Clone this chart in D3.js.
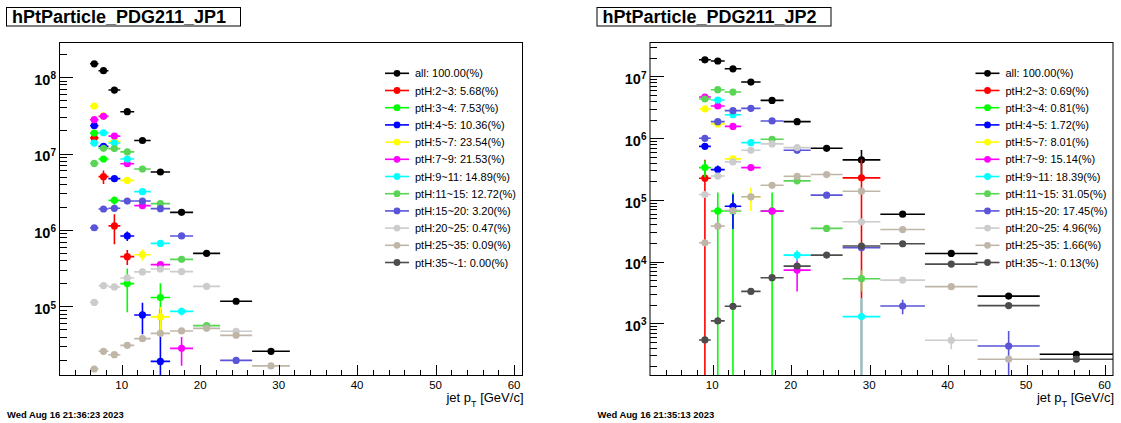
<!DOCTYPE html>
<html>
<head>
<meta charset="utf-8">
<script src="https://cdn.jsdelivr.net/npm/d3@7"></script>
<style>
  body { margin: 0; background: #fff; }
  svg { display: block; font-family: "Liberation Sans", Arial, sans-serif; }
</style>
</head>
<body>
<svg id="chart" width="1121" height="423"></svg>
<script>
// jet pT bin edges (variable, log-like binning)
const binEdges = [5.97, 7.05, 8.32, 9.83, 11.60, 13.70, 16.17, 19.10, 22.55, 26.62, 31.43, 37.11, 43.82, 51.73, 61.07];

const seriesLabels = ["all", "ptH:2~3", "ptH:3~4", "ptH:4~5", "ptH:5~7", "ptH:7~9", "ptH:9~11",
  "ptH:11~15", "ptH:15~20", "ptH:20~25", "ptH:25~35", "ptH:35~-1"];
const seriesColors = ["#000000", "#ff0000", "#00ff00", "#0000ff", "#ffff00", "#ff00ff", "#00ffff",
  "#59d454", "#5954d8", "#cccccc", "#c0b6a8", "#4d4d4d"];

const jp1Percent = ["100.00", "5.68", "7.53", "10.36", "23.54", "21.53", "14.89", "12.72", "3.20", "0.47", "0.09", "0.00"];
const jp2Percent = ["100.00", "0.69", "0.81", "1.72", "8.01", "15.14", "18.39", "31.05", "17.45", "4.96", "1.66", "0.13"];

const _ = null;
// counts per bin, one row per series (same order as seriesLabels)
const jp1Values = [
  [1.49e8, 1.21e8, 6.76e7, 3.52e7, 1.48e7, 5.73e6, 1.70e6, 4.94e5, 1.17e5, 2.59e4, _, _, _, _],
  [1.60e7, 4.98e6, 1.13e6, 4.48e5, _, _, _, _, _, _, _, _, _, _],
  [1.85e7, 8.48e6, 2.44e6, 1.99e5, _, 1.31e5, _, _, _, _, _, _, _, _],
  [2.31e7, 1.24e7, 4.69e6, 8.36e5, 7.74e4, 1.91e4, _, _, _, _, _, _, _, _],
  [4.18e7, 3.10e7, 1.44e7, 4.45e6, 4.75e5, 7.30e4, _, _, _, _, _, _, _, _],
  [2.77e7, 3.06e7, 1.69e7, 7.36e6, 2.08e6, 3.52e5, 2.83e4, _, _, _, _, _, _, _],
  [1.37e7, 1.87e7, 1.37e7, 8.48e6, 3.17e6, 6.68e5, 8.63e4, _, _, _, _, _, _, _],
  [7.43e6, 1.17e7, 1.16e7, 1.05e7, 6.27e6, 2.21e6, 4.13e5, 5.61e4, _, _, _, _, _, _],
  [1.07e6, 1.88e6, 1.92e6, 2.39e6, 2.39e6, 1.90e6, 8.36e5, _, 1.97e4, _, _, _, _, _],
  [1.13e5, 1.87e5, 1.80e5, 2.36e5, 2.83e5, 3.09e5, 2.85e5, 1.83e5, 4.73e4, _, _, _, _, _],
  [1.52e4, 2.59e4, 2.34e4, 3.10e4, 3.79e4, 4.45e4, 4.78e4, 5.17e4, 4.19e4, 1.67e4, _, _, _, _],
  [_, _, _, _, _, _, _, _, _, _, _, _, _, _]
];
const jp2Values = [
  [_, _, 1.86e7, 1.78e7, 1.33e7, 8.11e6, 4.09e6, 1.85e6, 6.84e5, 4.44e5, 5.85e4, 1.35e4, 2.75e3, 314],
  [_, _, 2.24e5, _, _, _, _, _, _, 2.27e5, _, _, _, _],
  [_, _, 3.33e5, 6.6e4, 6.6e4, _, 6.6e4, _, _, _, _, _, _, _],
  [_, _, 7.36e5, 3.09e5, 7.87e4, _, _, _, _, _, _, _, _, _],
  [_, _, 2.97e6, 1.70e6, 4.61e5, 1.12e5, _, _, _, _, _, _, _, _],
  [_, _, 4.64e6, 3.32e6, 1.55e6, 3.33e5, 6.55e4, 7.26e3, _, _, _, _, _, _],
  [_, _, _, 4.15e6, 2.40e6, 8.45e5, _, 1.27e4, _, 1.28e3, _, _, _, _],
  [_, _, 4.31e6, 6.10e6, 5.59e6, _, 9.58e5, 2.03e5, 3.44e4, 5.27e3, _, _, _, _],
  [_, _, 9.93e5, 1.85e6, 2.79e6, 3.04e6, 1.90e6, 6.35e5, 1.19e5, 1.67e4, 1.90e3, _, 427, _],
  [_, _, 1.22e5, 2.43e5, 4.12e5, 6.35e5, 8.06e5, 7.02e5, _, 4.40e4, 5.00e3, 529, _, _],
  [_, _, 2.01e4, 3.74e4, 6.71e4, 1.12e5, 1.72e5, 2.41e5, 2.57e5, 1.38e5, 3.30e4, 3.91e3, 261, _],
  [_, _, 535, 1.09e3, 1.88e3, 3.28e3, 5.47e3, 8.43e3, 1.27e4, 1.78e4, 1.94e4, 9.08e3, 1.93e3, 261]
];

// visible vertical error bars: [series, bin, error]
const jp1Errors = [
  [1, 1, 1.0e6], [1, 2, 4.8e5], [1, 3, 1.0e5],
  [2, 2, 3.0e5], [2, 3, 1.15e5], [2, 5, 7.0e4],
  [3, 3, 1.2e5], [3, 4, 3.4e4], [3, 5, 7.3e4],
  [4, 4, 8.0e4], [4, 5, 2.5e4],
  [5, 6, 1.15e4], [6, 6, 1.0e4]
];
const jp2Errors = [
  [0, 9, 2.0e5],
  [1, 2, 2.24e5], [1, 9, 2.27e5],
  [2, 2, 1.0e5], [2, 3, 6.6e4], [2, 4, 6.6e4], [2, 6, 6.6e4],
  [3, 3, 5.0e4], [3, 4, 4.5e4],
  [4, 5, 4.6e4],
  [5, 7, 4.0e3],
  [6, 7, 2.5e3], [6, 9, 1.28e3],
  [7, 9, 2.0e3],
  [8, 10, 5.0e2], [8, 12, 3.2e2],
  [9, 11, 150]
];

const panels = [
  { id: "jp1", dx: 0, title: "hPtParticle_PDG211_JP1", date: "Wed Aug 16 21:36:23 2023",
    yDomain: [1.25e4, 2.83e8], values: jp1Values, errors: jp1Errors, percent: jp1Percent },
  { id: "jp2", dx: 590.5, title: "hPtParticle_PDG211_JP2", date: "Wed Aug 16 21:35:13 2023",
    yDomain: [142, 3.55e7], values: jp2Values, errors: jp2Errors, percent: jp2Percent }
];

const svg = d3.select("#chart");
const frame = { left: 59.5, right: 522.5, top: 42.5, bottom: 375.5 };
const xDomain = [2.08, 61.07];

function drawPanel(p) {
  const g = svg.append("g").attr("transform", `translate(${p.dx},0)`);

  const x = d3.scaleLinear().domain(xDomain).range([frame.left, frame.right]);
  const y = d3.scaleLog().domain(p.yDomain).range([frame.bottom, frame.top]);

  // title box
  g.append("rect")
    .attr("x", 6.5).attr("y", 7.5).attr("width", 234).attr("height", 18.5)
    .attr("fill", "#fff").attr("stroke", "#000");
  g.append("text")
    .attr("x", 12).attr("y", 23)
    .style("font-size", "18px").style("font-weight", "bold")
    .text(p.title);

  // date stamp
  g.append("text")
    .attr("x", 7).attr("y", 417.5)
    .style("font-size", "9.4px").style("font-weight", "bold")
    .text(p.date);

  // clip to frame
  g.append("clipPath").attr("id", "clip-" + p.id)
    .append("rect")
    .attr("x", frame.left).attr("y", frame.top)
    .attr("width", frame.right - frame.left).attr("height", frame.bottom - frame.top);

  const plot = g.append("g").attr("clip-path", `url(#clip-${p.id})`);

  const errMap = {};
  p.errors.forEach(e => { errMap[e[0] + "_" + e[1]] = e[2]; });

  p.values.forEach((vals, si) => {
    const color = seriesColors[si];
    const pts = [];
    vals.forEach((v, bi) => {
      if (v == null) return;
      pts.push({ v: v, lo: binEdges[bi], hi: binEdges[bi + 1], err: errMap[si + "_" + bi] || 0 });
    });
    const sg = plot.append("g");
    // horizontal bars (bin width)
    sg.selectAll("line.h").data(pts).enter().append("line")
      .attr("x1", d => x(d.lo)).attr("x2", d => x(d.hi))
      .attr("y1", d => y(d.v)).attr("y2", d => y(d.v))
      .attr("stroke", color).attr("stroke-width", 1.6);
    // vertical error bars
    sg.selectAll("line.v").data(pts.filter(d => d.err > 0)).enter().append("line")
      .attr("x1", d => x((d.lo + d.hi) / 2)).attr("x2", d => x((d.lo + d.hi) / 2))
      .attr("y1", d => y(Math.min(d.v + d.err, p.yDomain[1])))
      .attr("y2", d => d.v - d.err > p.yDomain[0] ? y(d.v - d.err) : frame.bottom + 2)
      .attr("stroke", color).attr("stroke-width", 1.6);
    // markers
    sg.selectAll("circle").data(pts).enter().append("circle")
      .attr("cx", d => x((d.lo + d.hi) / 2))
      .attr("cy", d => y(d.v))
      .attr("r", 3.6)
      .attr("fill", color);
  });

  // frame
  g.append("rect")
    .attr("x", frame.left).attr("y", frame.top)
    .attr("width", frame.right - frame.left).attr("height", frame.bottom - frame.top)
    .attr("fill", "none").attr("stroke", "#000").attr("stroke-width", 1);

  // x axis ticks
  const xTicks = d3.range(4, 61, 2);
  g.selectAll("line.xt").data(xTicks).enter().append("line")
    .attr("x1", d => Math.round(x(d)) + 0.5).attr("x2", d => Math.round(x(d)) + 0.5)
    .attr("y1", frame.bottom)
    .attr("y2", d => frame.bottom - (d % 10 === 0 ? 11 : 5.5))
    .attr("stroke", "#000").attr("shape-rendering", "crispEdges");
  g.selectAll("text.xl").data(xTicks.filter(d => d % 10 === 0)).enter().append("text")
    .attr("x", d => x(d)).attr("y", 389)
    .attr("text-anchor", "middle")
    .style("font-size", "11.5px")
    .text(d => d);

  // x axis title
  const xt = g.append("text")
    .attr("x", frame.right + 1).attr("y", 402)
    .attr("text-anchor", "end")
    .style("font-size", "13px");
  xt.append("tspan").text("jet p");
  xt.append("tspan").attr("dy", 4.5).style("font-size", "9px").text("T");
  xt.append("tspan").attr("dy", -4.5).text(" [GeV/c]");

  // y axis ticks (log)
  const yTicks = y.ticks().filter(d => d >= p.yDomain[0] && d <= p.yDomain[1]);
  const isMajor = d => Math.abs(Math.log10(d) - Math.round(Math.log10(d))) < 1e-6;
  g.selectAll("line.yt").data(yTicks).enter().append("line")
    .attr("x1", frame.left)
    .attr("x2", d => frame.left + (isMajor(d) ? 13.5 : 7))
    .attr("y1", d => Math.round(y(d)) + 0.5).attr("y2", d => Math.round(y(d)) + 0.5)
    .attr("stroke", "#000").attr("shape-rendering", "crispEdges");
  const yl = g.selectAll("text.yl").data(yTicks.filter(isMajor)).enter().append("text")
    .attr("x", 56).attr("y", d => y(d) + 7.7)
    .attr("text-anchor", "end")
    .style("font-size", "14.5px").style("font-weight", "bold");
  yl.append("tspan").text("10");
  yl.append("tspan").attr("dy", -5.5).style("font-size", "10px")
    .text(d => Math.round(Math.log10(d)));

  // legend
  const legend = g.selectAll("g.legend").data(seriesLabels).enter().append("g")
    .attr("transform", (d, i) => `translate(0, ${73.3 + i * 17.2})`);
  legend.append("line")
    .attr("x1", 385).attr("x2", 409).attr("y1", 0).attr("y2", 0)
    .attr("stroke", (d, i) => seriesColors[i]).attr("stroke-width", 1.6);
  legend.append("circle")
    .attr("cx", 397).attr("cy", 0).attr("r", 3.4)
    .attr("fill", (d, i) => seriesColors[i]);
  legend.append("text")
    .attr("x", 415).attr("y", 4)
    .style("font-size", "11px")
    .text((d, i) => `${d}: ${p.percent[i]}(%)`);
}

panels.forEach(drawPanel);
</script>
</body>
</html>
